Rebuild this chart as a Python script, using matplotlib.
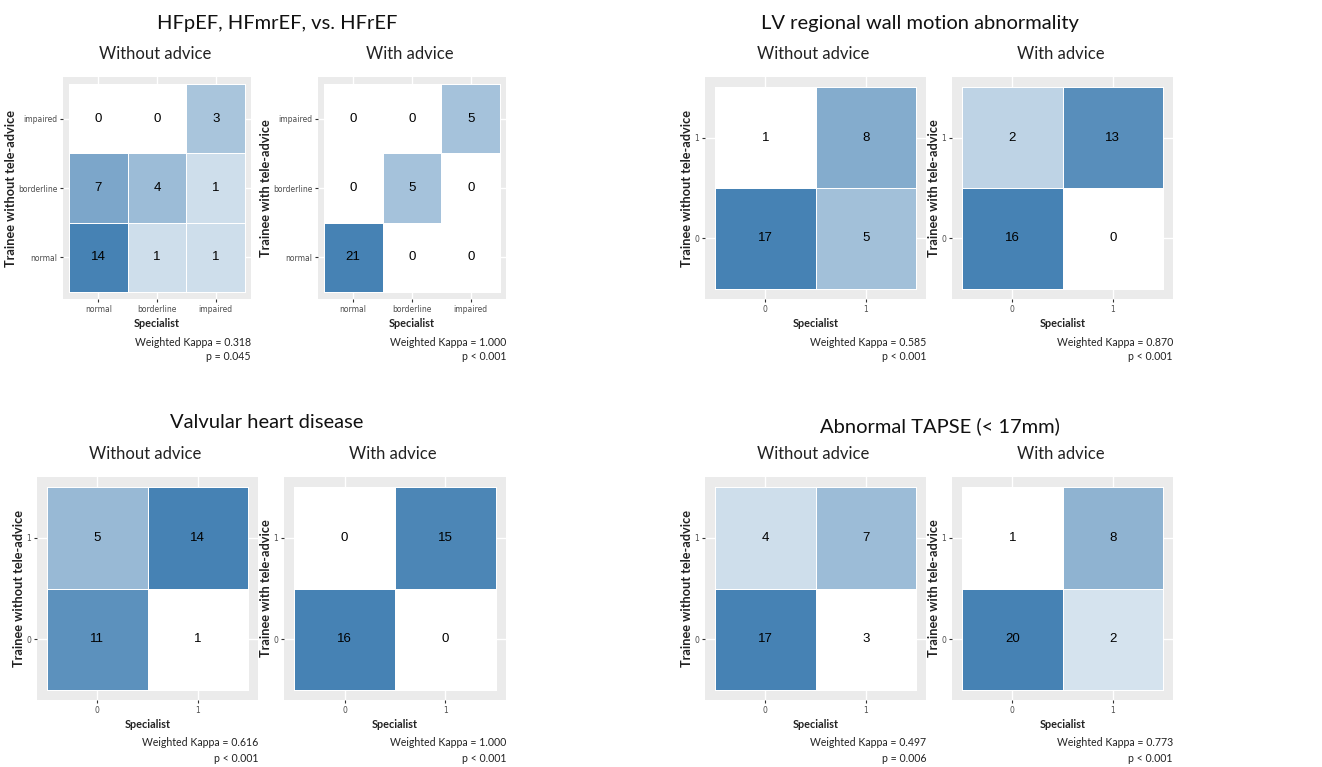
import numpy as np
import matplotlib.pyplot as plt
from matplotlib.colors import LinearSegmentedColormap, PowerNorm

plt.rcParams['font.family'] = ['Lato', 'DejaVu Sans']

W, H = 1322, 767

# --- data (rows = trainee from bottom to top, columns = specialist) ---
hf_labels = ['normal', 'borderline', 'impaired']
bin_labels = ['0', '1']

hf_without = [[14, 1, 1], [7, 4, 1], [0, 0, 3]]
hf_with = [[21, 0, 0], [0, 5, 0], [0, 0, 5]]
lv_without = [[17, 5], [1, 8]]
lv_with = [[16, 0], [2, 13]]
vhd_without = [[11, 1], [5, 14]]
vhd_with = [[16, 0], [0, 15]]
tapse_without = [[17, 3], [4, 7]]
tapse_with = [[20, 2], [1, 8]]

kappas = ['0.318', '1.000', '0.585', '0.870', '0.616', '1.000', '0.497', '0.773']
pvals = ['p = 0.045', 'p < 0.001', 'p < 0.001', 'p < 0.001',
         'p < 0.001', 'p < 0.001', 'p = 0.006', 'p < 0.001']

group_titles = ['HFpEF, HFmrEF, vs. HFrEF', 'LV regional wall motion abnormality',
                'Valvular heart disease', 'Abnormal TAPSE (< 17mm)']

cmap = LinearSegmentedColormap.from_list('wb', ['white', '#4682B4'])

fig = plt.figure(figsize=(W / 100, H / 100), dpi=100)


def fx(x):
    return x / W


def fy(y):
    return 1 - y / H


def draw_panel(box, mat, labels, subtitle, ylabel, kappa, pval):
    x0, x1, y0, y1 = box
    ax = fig.add_axes([fx(x0), fy(y1), (x1 - x0) / W, (y1 - y0) / H])
    mat = np.array(mat)
    n = len(labels)
    ax.set_facecolor('#EBEBEB')
    edges = np.arange(n + 1) - 0.5
    ax.pcolormesh(edges, edges, mat, cmap=cmap,
                  norm=PowerNorm(0.5, vmin=mat.min(), vmax=mat.max()),
                  edgecolors='white', linewidth=0.4, zorder=2)
    for i in range(n):
        for j in range(n):
            ax.text(j, i, str(mat[i, j]), ha='center', va='center', fontsize=9.5,
                    family='Liberation Sans', color='black', zorder=3)
    ax.set_xlim(-0.6, n - 0.4)
    ax.set_ylim(-0.6, n - 0.4)
    ax.set_xticks(range(n))
    ax.set_yticks(range(n))
    ax.set_xticklabels(labels, family='DejaVu Sans', fontsize=5.5, color='#4D4D4D')
    ax.set_yticklabels(labels, family='DejaVu Sans', fontsize=5.5, color='#4D4D4D')
    ax.tick_params(length=2, width=0.8, color='#333333', pad=2)
    ax.grid(True, color='white', linewidth=1.0, zorder=0)
    ax.set_axisbelow(True)
    for s in ax.spines.values():
        s.set_visible(False)
    ax.set_ylabel(ylabel, fontsize=9.2, fontweight='bold', color='#222222', labelpad=1)
    cx = (x0 + x1) / 2
    fig.text(fx(cx), fy(y1 + 24), 'Specialist', ha='center', va='center',
             fontsize=7.8, fontweight='bold', color='#222222')
    fig.text(fx(x1), fy(y1 + 43), 'Weighted Kappa = ' + kappa, ha='right', va='center',
             fontsize=7.6, color='#222222')
    fig.text(fx(x1), fy(y1 + 58), pval, ha='right', va='center',
             fontsize=7.6, color='#222222')
    fig.text(fx(cx - 2), fy(y0 - 23), subtitle, ha='center', va='center',
             fontsize=12, color='#222222')
    return ax


ylab_wo = 'Trainee without tele-advice'
ylab_w = 'Trainee with tele-advice'

draw_panel((63, 251, 77, 299), hf_without, hf_labels, 'Without advice', ylab_wo, kappas[0], pvals[0])
draw_panel((318, 506, 77, 299), hf_with, hf_labels, 'With advice', ylab_w, kappas[1], pvals[1])
draw_panel((705, 926, 77, 299), lv_without, bin_labels, 'Without advice', ylab_wo, kappas[2], pvals[2])
draw_panel((952, 1173, 77, 299), lv_with, bin_labels, 'With advice', ylab_w, kappas[3], pvals[3])
draw_panel((37, 258, 477, 700), vhd_without, bin_labels, 'Without advice', ylab_wo, kappas[4], pvals[4])
draw_panel((284, 506, 477, 700), vhd_with, bin_labels, 'With advice', ylab_w, kappas[5], pvals[5])
draw_panel((705, 926, 477, 700), tapse_without, bin_labels, 'Without advice', ylab_wo, kappas[6], pvals[6])
draw_panel((952, 1173, 477, 700), tapse_with, bin_labels, 'With advice', ylab_w, kappas[7], pvals[7])

title_pos = [(277, 23), (920, 23), (267, 423), (940, 426)]
for t, (x, y) in zip(group_titles, title_pos):
    fig.text(fx(x), fy(y), t, ha='center', va='center', fontsize=14.5, color='#111111')

fig.savefig('out.png', dpi=100, facecolor='white')
